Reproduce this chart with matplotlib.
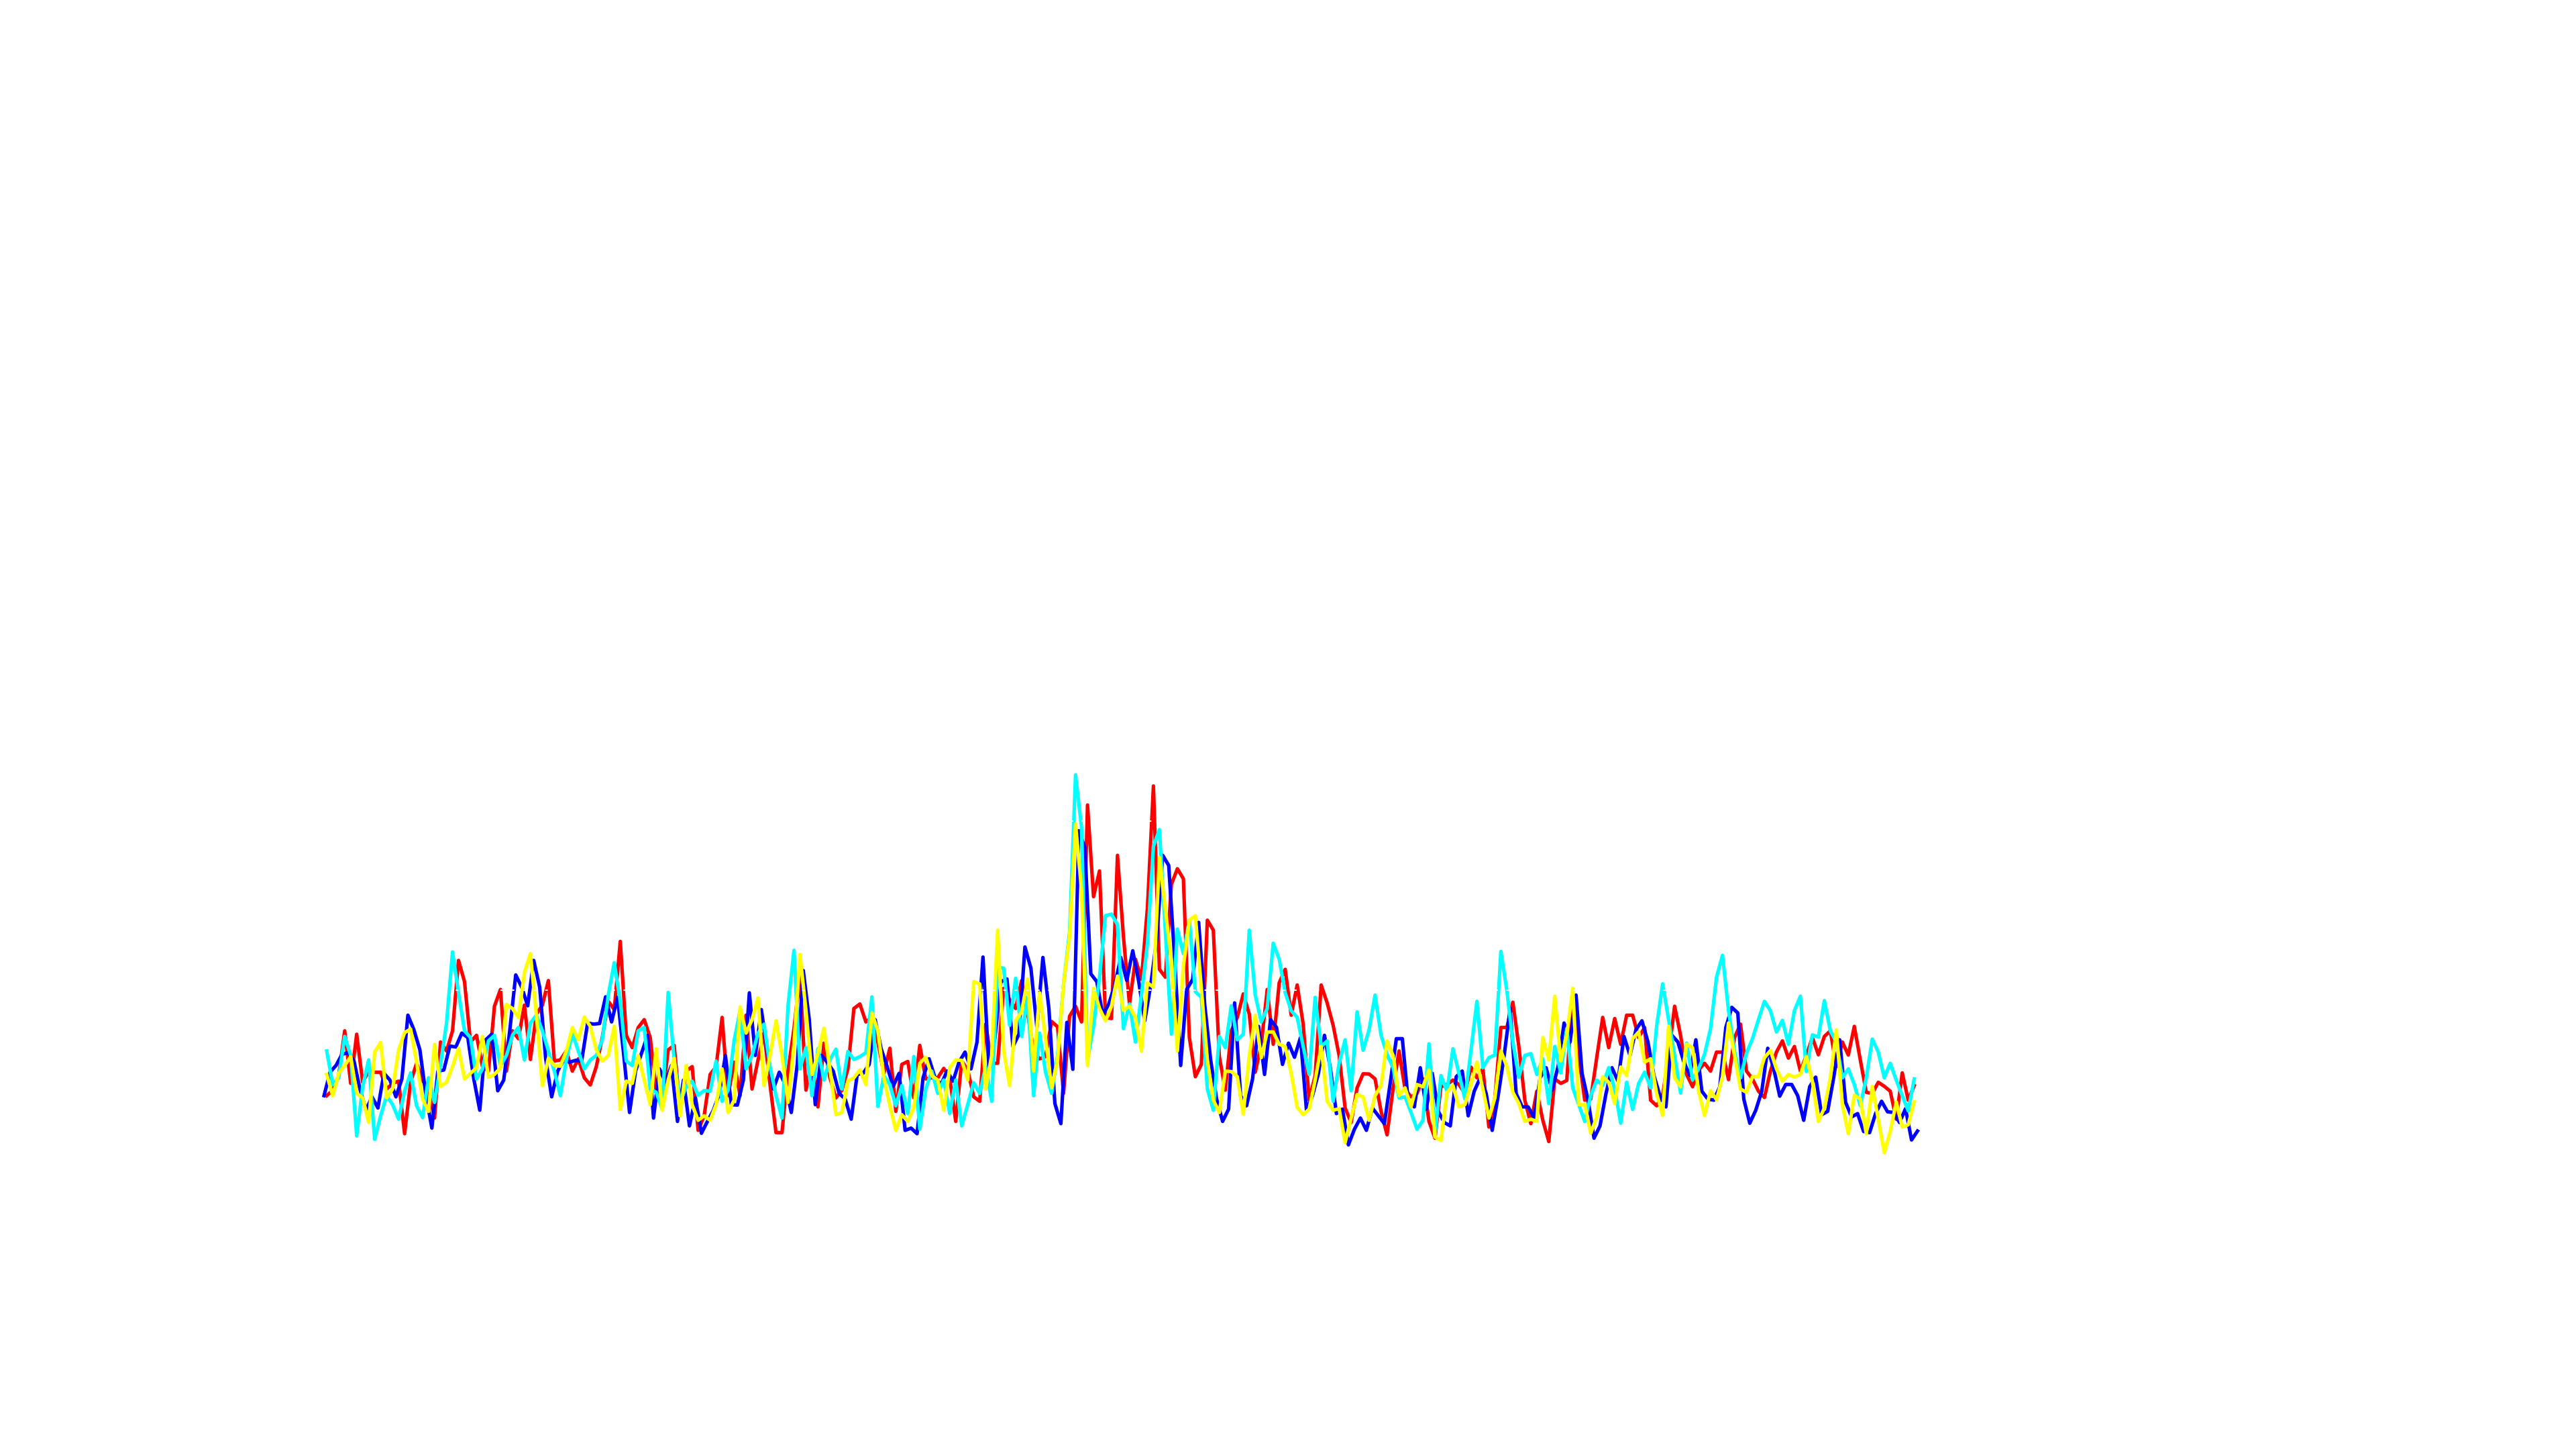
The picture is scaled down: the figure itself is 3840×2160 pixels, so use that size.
import numpy as np
import matplotlib
matplotlib.use("Agg")
import matplotlib.pyplot as plt

red_values = [320,345,410,610,375,595,380,430,425,425,350,375,385,150,380,465,390,340,220,560,520,610,925,830,560,590,450,430,720,795,430,610,575,725,482,685,725,835,475,480,520,430,485,400,368,450,580,742,705,1010,590,535,625,660,
580,340,300,525,545,250,430,450,165,230,415,450,670,320,470,320,680,350,480,600,370,155,155,430,620,860,345,480,270,555,400,310,345,440,710,730,650,670,560,420,532,250,460,473,310,545,395,400,400,442,400,205,475,435,315,295,
640,465,465,800,750,710,835,690,520,485,495,652,628,330,675,720,650,1620,1210,1325,670,665,1395,1030,730,930,840,1160,1705,885,850,1265,1335,1290,580,405,460,1105,1060,495,345,610,670,775,685,425,550,795,550,825,885,680,815,640,
300,410,815,735,635,500,265,200,355,418,417,395,250,145,350,520,350,315,330,395,205,130,360,370,390,370,330,448,400,440,180,310,625,625,738,540,300,195,340,210,115,395,375,388,780,500,300,305,490,670,535,665,550,680,680,
580,625,300,275,320,500,720,590,415,360,435,465,430,515,515,392,580,640,430,395,340,312,430,515,565,488,540,430,500,580,503,585,610,450,560,502,630,480,335,330,380,362,340,215,422,300,365]

blue_values = [320,425,455,505,512,475,350,255,315,265,420,390,315,395,680,615,525,325,175,430,435,542,538,600,580,395,255,570,595,342,390,610,860,805,722,925,805,485,315,430,480,470,478,475,645,640,643,762,650,760,510,245,430,510,590,
220,440,380,455,205,390,185,310,152,205,255,330,500,280,278,390,780,500,705,520,350,425,370,245,460,880,660,280,500,470,430,330,305,215,415,420,460,660,530,450,362,420,165,175,150,400,485,400,370,430,385,470,515,440,560,
940,440,580,830,842,540,595,985,890,625,938,710,285,195,648,438,1505,1430,865,830,680,730,815,938,835,968,830,655,815,1020,1395,1350,930,455,795,840,1095,730,480,305,205,260,735,320,275,395,630,415,660,625,460,555,492,580,255,
320,420,590,440,240,260,100,170,220,165,265,230,195,380,575,575,290,270,445,260,420,250,200,185,405,430,230,340,400,330,165,320,500,710,330,270,270,220,400,445,345,450,645,560,770,420,300,130,185,330,445,385,585,500,615,
655,560,410,320,270,590,560,470,410,570,340,305,300,360,625,715,690,305,197,255,340,532,440,318,370,370,320,210,360,403,235,250,400,570,290,225,240,160,155,240,295,248,245,200,262,122,162]

cyan_values = [520,370,400,585,500,140,360,480,125,230,320,280,215,340,422,275,222,400,290,460,645,963,780,610,580,395,440,565,590,455,500,590,625,480,645,680,610,520,430,320,480,600,520,440,480,500,570,770,915,740,475,455,610,625,
350,335,260,782,480,290,360,385,322,343,340,475,295,345,565,700,440,500,600,640,450,320,220,720,970,440,535,320,530,390,480,528,350,518,482,495,512,762,272,410,370,275,365,240,495,170,350,430,330,390,240,390,185,280,378,330,
450,295,895,890,635,845,585,760,320,600,425,330,500,820,1050,1755,1520,480,630,850,1125,1132,1085,620,730,560,770,1000,1435,1510,1050,595,1065,955,1105,785,760,350,255,585,535,722,570,595,1060,770,650,710,1002,930,780,700,670,540,
415,760,540,565,295,465,570,342,695,523,615,770,590,505,445,310,315,245,170,210,552,140,410,340,530,420,305,520,742,445,490,502,965,790,560,402,500,508,415,485,285,540,422,620,355,280,205,320,390,365,445,350,197,
380,258,375,425,355,630,820,660,500,332,555,390,440,505,620,850,948,700,520,400,510,575,660,742,700,605,657,550,700,765,428,592,582,745,610,560,400,440,370,275,400,573,515,400,465,390,320,252,395]

yellow_values = [415,320,420,455,495,330,310,200,515,558,310,350,525,602,618,470,305,250,550,362,380,450,532,395,420,445,585,402,415,445,728,710,670,870,955,680,365,488,455,452,520,625,570,672,630,525,475,500,630,258,385,375,500,390,
280,530,255,390,488,230,455,280,210,230,210,280,440,245,300,717,600,660,757,365,500,655,500,290,550,952,700,415,510,622,440,235,245,385,400,435,370,690,610,400,275,165,235,205,265,465,492,410,390,255,445,480,478,390,830,820,
350,500,1060,520,365,655,695,842,430,780,575,355,480,820,1030,1535,1240,455,800,710,655,720,855,702,720,670,520,825,805,1385,1150,920,520,900,1105,1125,800,480,300,245,430,428,405,238,500,680,490,605,605,550,540,420,268,235,
260,390,540,295,255,262,110,220,325,315,210,320,365,565,500,320,355,270,370,360,435,135,120,335,365,270,280,370,470,350,220,310,520,450,335,285,205,215,205,580,480,765,475,590,800,280,280,152,225,405,380,285,448,
410,575,605,470,485,330,232,630,400,360,550,535,340,232,342,302,405,645,500,350,335,405,405,490,522,440,385,415,403,415,495,385,205,265,400,615,280,150,322,305,150,362,215,65,160,292,180,190,292]

gridline_values = [36, 792, 1548, 2304, 3060, 3816, 4572]

plt.rcParams['font.family'] = ['DejaVu Sans']
fig = plt.figure(figsize=(12.8, 7.2), dpi=300, facecolor='white')
ax = fig.add_axes([0, 0, 1, 1])
for vals, col, off in [(red_values, '#ff0000', 0.0), (blue_values, '#0000ff', -0.45),
                       (cyan_values, '#00ffff', 0.0), (yellow_values, '#ffff00', 0.0)]:
    ax.plot(np.arange(len(vals)) + off, vals, color=col, lw=1.25, solid_joinstyle='round')
ax.set_xlim(-54.54, 375.47)
ax.set_ylim(-1260, 5220)
ax.set_yticks(gridline_values)
ax.set_xticks([])
ax.tick_params(left=False, labelleft=False, bottom=False, labelbottom=False)
ax.set_axisbelow(False)
ax.yaxis.grid(True, color='white', linewidth=0.48, linestyle=(1.83, (2, 6.33)))
for s in ax.spines.values():
    s.set_visible(False)
fig.savefig('out.png', dpi=300, facecolor='white')
